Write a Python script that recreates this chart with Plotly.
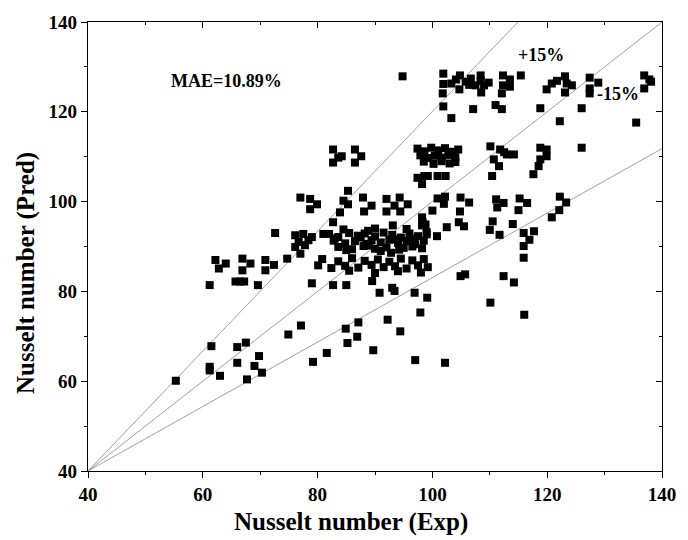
import plotly.graph_objects as go

# ---- data ----
exp_vals = [
    # lower scatter
    55.3, 61.5, 61.2, 61.2, 63.0, 66.0, 67.5, 66.0, 67.7, 69.0, 69.8, 70.3, 74.9, 77.1, 79.2, 81.6,
    84.9, 87.1, 85.2, 86.9, 89.7, 92.2, 94.4, 97.0, 102.2, 97.9, 99.1, 96.9, 93.4, 93.0, 90.8, 89.5,
    82.7, 85.0, 79.0, 104.9, 105.7, 110.1, 116.0, 112.4, 114.2,
    # left middle cluster
    62.2, 62.8, 64.0, 61.2, 66.9, 66.9, 68.3, 65.7, 66.5, 67.2, 70.9, 70.9, 72.4, 69.6, 74.7, 72.6,
    # 76-81 / 88-93
    76.1, 77.5, 79.0, 76.7, 78.4, 76.1, 77.8, 77.0, 81.0,
    # 77-80 / 98-101
    77.0, 78.7, 79.9, 78.7,
    # 82-86 / 95-102
    85.3, 84.5, 85.3, 83.9, 82.7,
    # 82-88 / 108-112
    82.7, 84.2, 82.7, 86.5, 87.6, 86.5, 83.6,
    # 88-96 / 94-101
    87.9, 89.4, 88.1, 92.0, 92.0, 93.4, 94.3, 95.7, 94.4, 93.1,
    # dense band ~89-94
    82.0, 83.6, 85.5, 87.0, 88.2, 90.0, 91.5, 93.0, 94.5, 96.0, 97.5, 99.0,
    82.8, 84.8, 86.5, 88.5, 89.4, 91.0, 92.5, 94.0, 95.5, 97.0, 98.5,
    83.6, 86.0, 88.0, 90.0, 92.0, 94.2, 96.5, 98.2,
    84.5, 90.0, 95.5, 98.3, 99.0, 98.2,
    83.0, 85.0, 87.5, 89.0, 91.0, 93.5, 95.0, 96.8, 88.8, 92.8,
    # band ~84-87.5
    80.8, 83.6, 86.0, 88.2, 90.5, 92.5, 94.5, 96.5, 98.5,
    80.1, 82.4, 84.8, 87.1, 89.4, 91.5, 93.5, 95.5, 97.5, 99.2,
    85.5, 90.0, 94.0, 98.0,
    # 97-105 / 103-112
    97.4, 98.6, 99.8, 101.0, 102.2, 103.3, 104.5,
    97.9, 99.2, 100.4, 101.6, 102.8, 104.0,
    98.5, 100.2, 101.6, 103.0, 104.0,
    97.4, 98.6, 99.2, 100.9, 102.3, 98.2,
    # 98-107 / 92-101
    100.9, 102.2, 100.0, 98.8, 98.2, 104.9, 106.4, 104.8, 105.5, 104.6, 102.5, 100.8, 102.0,
    # 110-118 / 87-101
    111.1, 111.3, 112.4, 110.5, 110.0, 111.7, 114.0, 115.0, 115.2, 116.5, 115.9, 117.7, 116.9,
    115.9, 115.9,
    # 120-124 / 96-101
    120.8, 122.1, 123.3, 122.2,
    # 110-114 / 105-112
    110.1, 111.8, 113.0, 114.2, 110.7, 111.6, 110.4, 112.5,
    # 117-126 / 105-112
    118.8, 119.9, 119.9, 118.8, 117.6, 118.5, 126.0,
    # top 95-110
    94.8, 101.9, 101.9, 101.8, 101.9, 103.3, 103.3, 104.1, 104.8, 104.7, 105.8, 106.7, 107.5,
    108.4, 108.4, 109.0, 109.8, 108.5, 107.1, 106.4,
    # top 111-116
    112.3, 112.3, 113.5, 113.5, 112.1, 115.4, 111.0, 112.1,
    # top 118-126
    118.8, 119.9, 120.8, 121.7, 123.1, 123.4, 123.1, 124.3, 122.2, 126.0,
    # top 127-129
    127.4, 127.4, 128.9, 127.4,
    # top 135-138
    136.9, 137.8, 136.9, 138.1, 135.5,
]
pred_vals = [
    60.1, 67.8, 63.2, 62.4, 61.2, 67.6, 68.6, 64.1, 60.4, 63.4, 65.6, 61.9, 70.4, 72.4, 64.3, 66.3,
    71.7, 73.1, 68.5, 69.9, 66.9, 73.7, 71.1, 64.7, 64.1, 75.3, 78.6, 79.7, 80.1, 80.8, 79.7, 82.3,
    81.4, 81.4, 81.8, 83.4, 83.8, 77.5, 74.8, 83.4, 82.0,
    87.0, 85.1, 86.2, 81.4, 87.3, 84.7, 86.2, 82.2, 82.2, 82.2, 87.0, 84.7, 85.9, 81.4, 87.3, 93.0,
    92.5, 92.8, 92.1, 91.0, 91.4, 89.9, 90.3, 88.4, 92.8,
    100.9, 100.6, 99.4, 98.3,
    102.4, 100.2, 99.4, 97.6, 95.4,
    111.6, 110.1, 108.7, 111.6, 110.1, 108.7, 109.8,
    100.9, 99.1, 97.8, 100.6, 97.8, 99.1, 100.9, 99.4, 97.8, 94.7,
    92.8, 92.1, 93.0, 92.4, 92.9, 92.2, 93.1, 92.6, 92.0, 92.9, 92.3, 92.7,
    91.3, 90.7, 91.2, 90.6, 91.4, 90.9, 91.5, 90.8, 91.2, 90.5, 91.3,
    89.9, 89.4, 90.1, 89.5, 89.8, 89.3, 90.0, 89.6,
    93.8, 94.0, 93.9, 95.4, 93.2, 94.7,
    91.8, 89.2, 92.0, 90.2, 89.0, 91.6, 89.7, 91.8, 93.5, 88.6,
    87.2, 86.7, 87.4, 86.8, 87.1, 86.6, 87.3, 86.9, 87.2,
    85.8, 85.2, 85.7, 85.3, 85.9, 85.4, 85.6, 85.1, 85.8, 85.4,
    84.6, 84.1, 84.5, 84.2,
    111.8, 111.2, 112.0, 111.4, 111.9, 111.1, 111.6,
    110.3, 109.7, 110.2, 109.8, 110.4, 109.9,
    108.9, 108.4, 109.0, 108.5, 108.8,
    105.3, 105.7, 105.7, 105.7, 105.7, 103.9,
    100.7, 101.1, 98.0, 94.9, 96.5, 100.9, 99.8, 97.8, 94.5, 95.4, 94.3, 92.3, 99.5,
    100.5, 98.7, 99.7, 95.6, 93.7, 92.6, 95.0, 98.1, 100.7, 99.7, 93.0, 93.4, 91.5,
    90.1, 87.5,
    96.5, 98.1, 99.8, 101.1,
    112.3, 111.6, 110.5, 110.5, 109.4, 107.9, 105.7, 111.0,
    112.0, 111.6, 110.1, 109.4, 106.1, 107.9, 112.0,
    127.9, 128.5, 126.2, 124.1, 121.2, 118.6, 126.3, 127.2, 128.1, 125.0, 126.7, 127.4, 125.9,
    128.1, 126.9, 125.9, 126.5, 124.3, 120.6, 126.0,
    128.1, 125.9, 127.2, 125.6, 124.1, 128.1, 121.5, 120.6,
    120.8, 125.0, 126.3, 126.9, 127.9, 126.3, 124.3, 125.9, 117.9, 120.8,
    127.6, 125.2, 126.5, 124.1,
    128.1, 127.2, 125.2, 126.7, 117.6,
]

axis_min, axis_max = 40, 140
ref_slopes = [1.335, 1.0, 0.718]       # reference lines through (40, 40)
tick_vals = [40, 60, 80, 100, 120, 140]
labels = ["+15%", "-15%", "MAE=10.89%"]
label_x = [118.9, 132.4, 64.2]
label_y = [132.6, 123.9, 126.8]
x_title = "Nusselt number (Exp)"
y_title = "Nusselt number (Pred)"

FONT = "Liberation Serif"

fig = go.Figure()

for s in ref_slopes:
    x_end = min(axis_max, axis_min + (axis_max - axis_min) / s)
    y_end = axis_min + s * (x_end - axis_min)
    fig.add_trace(go.Scatter(x=[axis_min, x_end], y=[axis_min, y_end], mode="lines",
                             line=dict(color="#a0a0a0", width=1), hoverinfo="skip",
                             showlegend=False))

fig.add_trace(go.Scatter(x=exp_vals, y=pred_vals, mode="markers",
                         marker=dict(symbol="square", size=8, color="black",
                                     line=dict(width=0)),
                         showlegend=False))

# invisible trace so the mirrored top/right axes get drawn
fig.add_trace(go.Scatter(x=[axis_min], y=[axis_min], xaxis="x2", yaxis="y2", mode="markers",
                         marker=dict(opacity=0), hoverinfo="skip", showlegend=False))

for t, x, y in zip(labels, label_x, label_y):
    fig.add_annotation(x=x, y=y, text=t, showarrow=False,
                       font=dict(family=FONT, size=18, color="black", weight="bold"))

title_font = dict(family=FONT, size=25, color="black", weight="bold")
fig.add_annotation(xref="paper", yref="paper", x=0.458, y=-0.113, text=x_title,
                   showarrow=False, font=title_font, xanchor="center", yanchor="middle")
fig.add_annotation(xref="paper", yref="paper", x=-0.107, y=0.44, text=y_title, textangle=-90,
                   showarrow=False, font=title_font, xanchor="center", yanchor="middle")

axis_common = dict(range=[axis_min, axis_max], tickvals=tick_vals, showgrid=False, zeroline=False,
                   showline=True, linecolor="black", linewidth=1.2,
                   ticks="outside", ticklen=6, tickwidth=1.2, tickcolor="black",
                   minor=dict(ticks="outside", ticklen=3, dtick=10, tickcolor="black"),
                   tickfont=dict(family=FONT, size=19, color="black", weight="bold"))

mirror_common = dict(range=[axis_min, axis_max], tickvals=tick_vals, showgrid=False,
                     zeroline=False, showline=True, linecolor="black", linewidth=1.2,
                     ticks="inside", ticklen=6, tickwidth=1.2, tickcolor="black",
                     minor=dict(ticks="inside", ticklen=3, dtick=10, tickcolor="black"),
                     showticklabels=False)

fig.update_layout(
    width=688, height=540,
    margin=dict(l=88, r=22, t=18, b=69),
    plot_bgcolor="white", paper_bgcolor="white",
    xaxis=dict(**axis_common),
    yaxis=dict(**axis_common),
    xaxis2=dict(**mirror_common, overlaying="x", side="top", anchor="y2"),
    yaxis2=dict(**mirror_common, overlaying="y", side="right", anchor="x2"),
)

fig.write_html("out.html")
